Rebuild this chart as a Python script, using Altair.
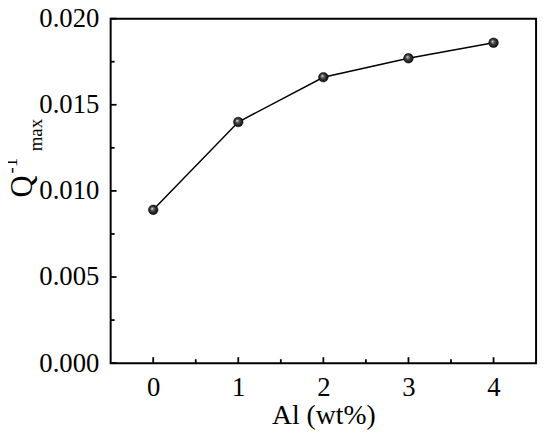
import altair as alt
import pandas as pd

al_wt = [0, 1, 2, 3, 4]
q_max = [0.0089, 0.0140, 0.0166, 0.0177, 0.0186]

x_major = [0, 1, 2, 3, 4]
x_minor = [0.5, 1.5, 2.5, 3.5]
y_major = [0.0, 0.005, 0.010, 0.015, 0.020]
y_minor = [0.0025, 0.0075, 0.0125, 0.0175]

FONT = "Liberation Serif"
W, H = 431, 349

df = pd.DataFrame({"x": al_wt, "y": q_max})

xs = alt.Scale(domain=[-0.5, 4.5], nice=False, zero=False)
ys = alt.Scale(domain=[0, 0.02], nice=False)

x_axis = alt.Axis(
    values=x_major, format="d", ticks=False, tickSize=0, grid=False, domain=False,
    labelFont=FONT, labelFontSize=27, labelColor="black", labelPadding=12,
    title="Al (wt%)", titleFont=FONT, titleFontSize=28, titleFontWeight="normal",
    titleColor="black", titlePadding=1, labelFlush=False,
)
y_axis = alt.Axis(
    values=y_major, format=".3f", ticks=False, tickSize=0, grid=False, domain=False,
    labelFont=FONT, labelFontSize=27, labelColor="black", labelPadding=12,
    title=None, labelFlush=False,
)

X = alt.X("x:Q", scale=xs, axis=x_axis, title="Al (wt%)")
Y = alt.Y("y:Q", scale=ys, axis=y_axis, title=None)

line = alt.Chart(df).mark_line(color="black", strokeWidth=1.5).encode(x=X, y=Y)

grad = alt.RadialGradient(
    gradient="radial",
    stops=[
        alt.GradientStop(offset=0, color="#f0f0f0"),
        alt.GradientStop(offset=0.35, color="#505050"),
        alt.GradientStop(offset=1, color="#000000"),
    ],
    x1=0.38, y1=0.35, r1=0.0, x2=0.5, y2=0.5, r2=0.55,
)

pts = alt.Chart(df).mark_point(
    shape="circle", filled=True, fill=grad, size=95, opacity=1, stroke="black", strokeWidth=0.5
).encode(x=X, y=Y)

def xticks(vals, length):
    return alt.Chart(pd.DataFrame({"x": vals})).mark_rule(color="black", strokeWidth=1.8).encode(
        x=X, y=alt.value(H), y2=alt.value(H - length),
    )

def yticks(vals, length):
    return alt.Chart(pd.DataFrame({"y": vals})).mark_rule(color="black", strokeWidth=1.8).encode(
        y=Y, x=alt.value(0), x2=alt.value(length),
    )

one = pd.DataFrame({"a": [0]})

def label(txt, x, y, size):
    return alt.Chart(one).mark_text(
        text=txt, font=FONT, fontSize=size, angle=270, align="center", baseline="middle", color="black"
    ).encode(x=alt.value(x), y=alt.value(y))

ytitle = label("Q", -89, 170, 31) + label("-1", -101, 149, 19) + label("max", -76, 118, 19)

chart = alt.layer(
    line, pts,
    xticks(x_major, 6), xticks(x_minor, 4),
    yticks(y_major, 6), yticks(y_minor, 4),
    ytitle,
).properties(
    width=W, height=H,
    autosize=alt.AutoSizeParams(type="none"),
    padding={"left": 104, "top": 8, "right": 6, "bottom": 70},
).configure(background="white").configure_view(stroke="black", strokeWidth=2)

chart.save("out.html", embed_options={"renderer": "svg", "actions": False})
